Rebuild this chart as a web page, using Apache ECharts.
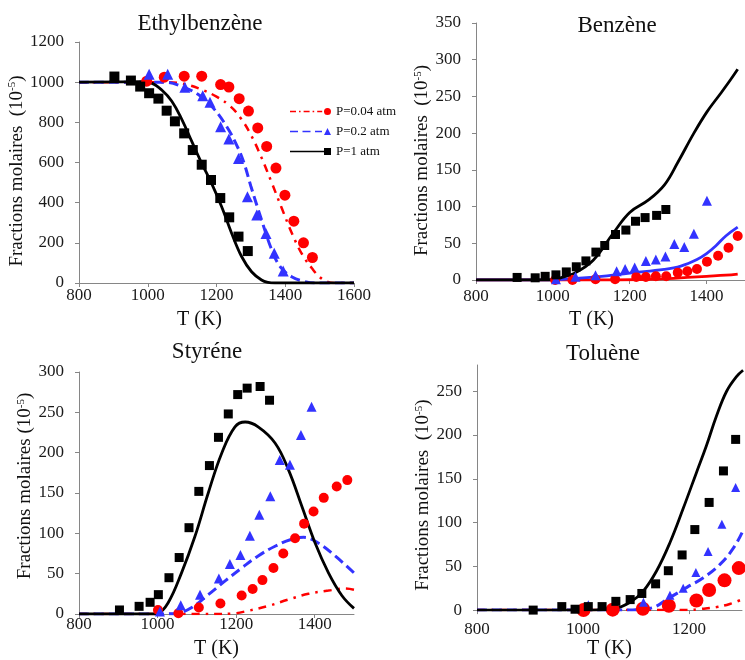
<!DOCTYPE html>
<html>
<head>
<meta charset="utf-8">
<script src="https://cdn.jsdelivr.net/npm/echarts@6/dist/echarts.min.js"></script>
<style>
html,body{margin:0;padding:0;background:#fff;overflow:hidden;}
#c{width:745px;height:660px;}
</style>
</head>
<body>
<div id="c"></div>
<script>
// ---------- DATA ----------
const legendNames = ['P=0.04 atm', 'P=0.2 atm', 'P=1 atm'];
const panelTitles = ['Ethylbenzène', 'Benzène', 'Styréne', 'Toluène'];
const xAxisName = 'T (K)';
const yAxisNames = ['Fractions molaires  (10{sup|-5})', 'Fractions molaires  (10{sup|-5})', 'Fractions molaires (10{sup|-5})', 'Fractions molaires  (10{sup|-5})'];

// Ethylbenzène
const ethXTicks = [800, 1000, 1200, 1400, 1600];
const ethYTicks = [0, 200, 400, 600, 800, 1000, 1200];
const ethModelP004 = [[800,1000],[1050,1000],[1100,993],[1150,968],[1200,928],[1240,880],[1270,822],[1300,738],[1330,628],[1360,502],[1390,372],[1420,245],[1450,140],[1480,68],[1500,30],[1520,8],[1540,0],[1600,0]];
const ethModelP02 = [[800,1000],[1050,1000],[1100,978],[1150,935],[1190,872],[1230,778],[1260,682],[1280,598],[1300,482],[1330,320],[1360,168],[1385,82],[1420,30],[1455,8],[1490,0],[1600,0]];
const ethModelP1 = [[800,1000],[980,1002],[1011,995],[1040,962],[1070,905],[1099,815],[1128,705],[1157,596],[1186,495],[1215,380],[1244,248],[1273,132],[1302,56],[1331,15],[1350,3],[1370,0],[1600,0]];
const ethExpP004 = [[997,1005],[1048,1025],[1106,1030],[1157,1030],[1212,988],[1236,976],[1266,918],[1293,856],[1320,772],[1346,680],[1373,572],[1399,437],[1425,308],[1453,200],[1479,127]];
const ethExpP02 = [[1004,1040],[1058,1040],[1108,975],[1160,932],[1181,900],[1212,778],[1236,717],[1264,620],[1290,430],[1317,339],[1344,247],[1368,148],[1394,60]];
const ethExpP1 = [[903,1028],[951,1008],[978,978],[1004,945],[1031,918],[1055,858],[1079,805],[1106,745],[1131,662],[1157,589],[1184,513],[1211,423],[1237,327],[1264,231],[1291,159]];

// Benzène
const benXTicks = [800, 1000, 1200, 1400];
const benYTicks = [0, 50, 100, 150, 200, 250, 300, 350];
const benModelP004 = [[800,0],[1150,0],[1250,1],[1300,2],[1350,3.5],[1400,5],[1450,6.5],[1481,8]];
const benModelP02 = [[800,0],[1000,0],[1040,1.5],[1120,4.5],[1200,9.5],[1290,14.5],[1333,19],[1375,28],[1400,36],[1425,47],[1450,60],[1481,72]];
const benModelP1 = [[800,0],[990,0],[1020,3],[1055,9],[1105,27],[1156,63],[1200,92],[1249,109],[1291,130],[1325,160],[1367,200],[1401,229],[1435,253],[1460,271],[1481,287]];
const benExpP004 = [[1006,0],[1051,0],[1111,1],[1162,1],[1217,4],[1242,4],[1268,5],[1295,5],[1325,10],[1350,12],[1375,15],[1401,25],[1430,33],[1457,44],[1481,60]];
const benExpP02 = [[1008,1],[1059,4.5],[1111,6.5],[1166,12],[1188,15],[1213,17],[1242,26],[1268,28],[1293,32],[1316,49],[1342,45],[1367,63],[1401,108]];
const benExpP1 = [[907,3.5],[954,3],[980,5],[1008,7],[1035,11],[1061,18],[1086,26],[1112,38],[1135,47],[1163,62],[1190,68],[1215,80],[1240,85],[1270,88],[1294,96]];

// Styréne
const styXTicks = [800, 1000, 1200, 1400];
const styYTicks = [0, 50, 100, 150, 200, 250, 300];
const styModelP004 = [[800,0],[1150,0],[1189,0.5],[1231,4],[1282,10],[1333,18],[1384,25],[1435,29],[1477,31.5],[1500,30]];
const styModelP02 = [[800,0],[1000,0],[1050,1],[1087,8],[1129,24],[1172,41],[1214,57],[1256,72],[1299,84],[1341,92.5],[1372,95],[1409,88],[1452,72],[1500,51]];
const styModelP1 = [[800,0],[990,0],[1000,0.5],[1027,14],[1061,51],[1095,96],[1129,150],[1163,199],[1197,232],[1223,238],[1256,232],[1299,212],[1333,179],[1367,134],[1401,88],[1435,51],[1469,23],[1500,7]];
const styExpP004 = [[1001,5],[1053,1],[1105,8],[1160,13],[1214,23],[1242,31],[1267,42],[1295,57],[1320,75],[1350,94],[1373,112],[1397,127],[1423,144],[1456,158],[1483,166]];
const styExpP02 = [[1006,3],[1059,11],[1108,24],[1156,44],[1184,62],[1211,73],[1235,97],[1259,123],[1287,146],[1311,191],[1337,185],[1365,222],[1392,257]];
const styExpP1 = [[903,5],[953,9.5],[981,14.5],[1002,24],[1029,45],[1055,70],[1080,107],[1105,152],[1132,184],[1155,219],[1180,248],[1204,272],[1228,280],[1261,282],[1285,265]];

// Toluène
const tolXTicks = [800, 1000, 1200];
const tolYTicks = [0, 50, 100, 150, 200, 250];
const tolModelP004 = [[800,0],[1200,0],[1218,1],[1252,3.5],[1277,7],[1302,12.7]];
const tolModelP02 = [[800,0],[1068,0],[1126,2],[1164,14.5],[1196,26],[1227,37],[1258,52],[1284,71],[1302,91]];
const tolModelP1 = [[800,0],[1000,0],[1057,1.5],[1089,9],[1114,22],[1139,45],[1164,77],[1189,116],[1214,157],[1233,188],[1252,222],[1271,250],[1290,267],[1302,274]];
const tolExpP004 = [[1001,0],[1056,0.5],[1113,1.5],[1162,5],[1214,11],[1238,23],[1267,34],[1294,48]];
const tolExpP02 = [[1010,6],[1114,9],[1164,17],[1189,25],[1213,43],[1236,67],[1262,98],[1288,140]];
const tolExpP1 = [[906,0],[960,4],[985,1],[1010,4],[1036,4],[1062,10],[1089,12],[1111,19],[1137,30],[1161,45],[1187,63],[1211,92],[1238,123],[1265,159],[1288,195]];

// ---------- STYLE / LAYOUT ----------
const SERIF = '"Liberation Serif", "Times New Roman", serif';
const RED = '#ff0000', BLUE = '#3333ff', BLACK = '#000000';
const AXIS_GRAY = '#868686';

const grids = [
  {left: 79, top: 42, width: 275, height: 241},
  {left: 476, top: 23, width: 276.5, height: 257},
  {left: 79, top: 372, width: 275, height: 243},
  {left: 477, top: 365, width: 265, height: 249}
];
const xRanges = [[800,1600],[800,1500],[800,1500],[800,1300]];
const yRanges = [[0,1200,200],[0,350,50],[0,300,50],[0,280,50]];
const xTickSets = [ethXTicks, benXTicks, styXTicks, tolXTicks];
const yTickSets = [ethYTicks, benYTicks, styYTicks, tolYTicks];
const xLabelMargin = [4, 8, 2, 11];
const xNameGap = [27, 30, 25, 27];
const xNamePad = [[0,34,0,0],[0,38,0,0],[0,0,0,0],[0,0,0,0]];
const yNameGap = [46, 44, 44, 44];
const yNamePad = [[0,17,0,0],[0,18,0,0],[0,0,0,14],[0,15,0,0]];
const titlePos = [[200,24],[617,26],[207,352],[603,354]];

const plainNum = v => String(v);

const xAxes = grids.map((g, i) => ({
  type: 'value', gridIndex: i, min: xRanges[i][0], max: xRanges[i][1], interval: 100,
  name: xAxisName, nameLocation: 'middle', nameGap: xNameGap[i],
  nameTextStyle: {fontFamily: SERIF, fontSize: 20, color: '#111', padding: xNamePad[i]},
  axisLine: {show: true, onZero: false, lineStyle: {color: AXIS_GRAY, width: 1}},
  axisTick: {show: true, inside: false, length: 4, lineStyle: {color: AXIS_GRAY}, customValues: xTickSets[i]},
  axisLabel: {fontFamily: SERIF, fontSize: 17, color: '#1a1a1a', margin: xLabelMargin[i], formatter: plainNum, customValues: xTickSets[i]},
  splitLine: {show: false}
}));
const yAxes = grids.map((g, i) => ({
  type: 'value', gridIndex: i, min: yRanges[i][0], max: yRanges[i][1], interval: yRanges[i][2],
  name: yAxisNames[i], nameLocation: 'middle', nameGap: yNameGap[i],
  nameTextStyle: {fontFamily: SERIF, fontSize: 19, color: '#111', padding: yNamePad[i],
    rich: {sup: {fontFamily: SERIF, fontSize: 11, color: '#111', verticalAlign: 'top', lineHeight: 11}}},
  axisLine: {show: true, onZero: false, lineStyle: {color: AXIS_GRAY, width: 1}},
  axisTick: {show: true, inside: false, length: 4, lineStyle: {color: AXIS_GRAY}, customValues: yTickSets[i]},
  axisLabel: {fontFamily: SERIF, fontSize: 17, color: '#1a1a1a', margin: 15, formatter: plainNum, customValues: yTickSets[i]},
  splitLine: {show: false}
}));

function modelLine(name, data, p, color, width, dash) {
  return {type: 'line', name, xAxisIndex: p, yAxisIndex: p, data, symbol: 'none',
    smooth: 0.4, clip: true, silent: true,
    lineStyle: {color, width, type: dash}, itemStyle: {color}, z: 2};
}
function expPoints(name, data, p, symbol, size, color) {
  return {type: 'scatter', name, xAxisIndex: p, yAxisIndex: p, data, symbol, symbolSize: size,
    clip: true, silent: true, itemStyle: {color, opacity: 1}, z: 3};
}
const DASHDOT = [8, 6, 2.5, 6];
const DASHED = [10, 5];

const series = [
  // Ethylbenzène
  modelLine(legendNames[0], ethModelP004, 0, RED, 2.5, DASHDOT),
  modelLine(legendNames[1], ethModelP02, 0, BLUE, 3, DASHED),
  modelLine(legendNames[2], ethModelP1, 0, BLACK, 2.8, 'solid'),
  expPoints(legendNames[0], ethExpP004, 0, 'circle', 11, RED),
  expPoints(legendNames[1], ethExpP02, 0, 'triangle', 11, BLUE),
  expPoints(legendNames[2], ethExpP1, 0, 'rect', 10, BLACK),
  // Benzène
  modelLine(legendNames[0], benModelP004, 1, RED, 2.8, 'solid'),
  modelLine(legendNames[1], benModelP02, 1, BLUE, 2.8, 'solid'),
  modelLine(legendNames[2], benModelP1, 1, BLACK, 2.8, 'solid'),
  expPoints(legendNames[0], benExpP004, 1, 'circle', 10, RED),
  expPoints(legendNames[1], benExpP02, 1, 'triangle', 10, BLUE),
  expPoints(legendNames[2], benExpP1, 1, 'rect', 9, BLACK),
  // Styréne
  modelLine(legendNames[0], styModelP004, 2, RED, 2.5, DASHDOT),
  modelLine(legendNames[1], styModelP02, 2, BLUE, 3, DASHED),
  modelLine(legendNames[2], styModelP1, 2, BLACK, 2.8, 'solid'),
  expPoints(legendNames[0], styExpP004, 2, 'circle', 10, RED),
  expPoints(legendNames[1], styExpP02, 2, 'triangle', 10, BLUE),
  expPoints(legendNames[2], styExpP1, 2, 'rect', 9, BLACK),
  // Toluène
  modelLine(legendNames[0], tolModelP004, 3, RED, 2.5, DASHDOT),
  modelLine(legendNames[1], tolModelP02, 3, BLUE, 3, DASHED),
  modelLine(legendNames[2], tolModelP1, 3, BLACK, 2.8, 'solid'),
  expPoints(legendNames[0], tolExpP004, 3, 'circle', 14, RED),
  expPoints(legendNames[1], tolExpP02, 3, 'triangle', 9, BLUE),
  expPoints(legendNames[2], tolExpP1, 3, 'rect', 9, BLACK)
];

const legendIcons = [
  'path://M0,2.7h6v1.6h-6z M9,2.7h1.6v1.6h-1.6z M13.6,2.7h6v1.6h-6z M22.6,2.7h1.6v1.6h-1.6z M27.2,2.7h5v1.6h-5z M34,3.5a3.5,3.5 0 1,0 7,0a3.5,3.5 0 1,0 -7,0z',
  'path://M0,2.7h8v1.6h-8z M12.5,2.7h8v1.6h-8z M25,2.7h7v1.6h-7z M34,7L37.5,0L41,7z',
  'path://M0,2.7h36v1.6h-36z M34,0h7v7h-7z'
];

const titles = panelTitles.map((t, i) => ({
  type: 'text', x: titlePos[i][0], y: titlePos[i][1], silent: true,
  style: {text: t, fontFamily: SERIF, fontSize: 23, fill: '#111', align: 'center', verticalAlign: 'middle',
    textAlign: 'center', textVerticalAlign: 'middle'}
}));

const chart = echarts.init(document.getElementById('c'), null, {renderer: 'canvas'});
chart.setOption({
  animation: false,
  backgroundColor: '#ffffff',
  grid: grids.map(g => Object.assign({containLabel: false}, g)),
  xAxis: xAxes,
  yAxis: yAxes,
  legend: {
    show: true, orient: 'vertical', left: 285, top: 100, selectedMode: false,
    itemWidth: 41, itemHeight: 7, itemGap: 7,
    itemStyle: {borderWidth: 0},
    textStyle: {fontFamily: SERIF, fontSize: 13, color: '#111', lineHeight: 13},
    data: legendNames.map((n, i) => ({name: n, icon: legendIcons[i]}))
  },
  graphic: titles,
  series
});
</script>
</body>
</html>
